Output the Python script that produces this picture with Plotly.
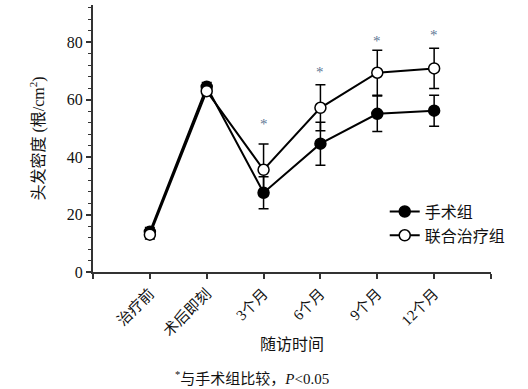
import plotly.graph_objects as go

categories = ["治疗前", "术后即刻", "3个月", "6个月", "9个月", "12个月"]
surgery = [14, 64.5, 27.6, 44.7, 55.1, 56.2]
surgery_err = [1.5, 1.5, 5.6, 7.5, 6.2, 5.4]
combined = [13, 63, 35.6, 57.2, 69.4, 70.9]
combined_err = [1.5, 1.5, 9.0, 8.0, 7.8, 7.0]
star_pos = [2, 3, 4, 5]
star_y = [51.5, 69.5, 80.6, 82.4]

xpos = list(range(len(categories)))
serif = "'Liberation Serif', 'Noto Sans CJK SC', serif"
ink = "#111111"

fig = go.Figure()
fig.add_trace(go.Scatter(
    x=xpos, y=surgery, name="手术组", mode="lines+markers",
    line=dict(color="black", width=2),
    marker=dict(symbol="circle", size=11, color="black", line=dict(color="black", width=1.5)),
    error_y=dict(type="data", array=surgery_err, visible=True, color="black", thickness=1.5, width=5),
))
fig.add_trace(go.Scatter(
    x=xpos, y=combined, name="联合治疗组", mode="lines+markers",
    line=dict(color="black", width=2),
    marker=dict(symbol="circle", size=11, color="white", line=dict(color="black", width=1.5)),
    error_y=dict(type="data", array=combined_err, visible=True, color="black", thickness=1.5, width=5),
))

for xp, yp in zip(star_pos, star_y):
    fig.add_annotation(x=xp, y=yp, text="*", showarrow=False,
                       font=dict(size=15, color="#5f7895", family=serif))

fig.add_annotation(xref="paper", yref="paper", x=(252 - 93) / 398, y=-(378 - 272) / 267,
                   text="<sup>*</sup>与手术组比较，<i>P</i>&lt;0.05", showarrow=False,
                   font=dict(size=15, color=ink, family=serif), xanchor="center", yanchor="middle")

fig.update_layout(
    width=528, height=389,
    margin=dict(l=93, r=37, t=5, b=117, autoexpand=False),
    paper_bgcolor="white", plot_bgcolor="white",
    font=dict(family=serif, color=ink, size=15),
    showlegend=True,
    legend=dict(x=0.733, y=0.29, xanchor="left", yanchor="top",
                bgcolor="rgba(0,0,0,0)", font=dict(size=16, family=serif, color=ink),
                tracegroupgap=0, itemwidth=30),
)
fig.update_xaxes(
    automargin=False,
    range=[-1, 6], tickmode="array", tickvals=[-1] + xpos + [6],
    ticktext=[""] + categories + [""], tickangle=-45,
    showline=True, linecolor="#333", linewidth=2, ticks="outside", ticklen=5,
    tickwidth=1.5, tickcolor="#333", showgrid=False, zeroline=False,
    tickfont=dict(size=15, family=serif, color=ink),
    title=dict(text="随访时间", font=dict(size=16, family=serif, color=ink), standoff=0),
)
fig.update_yaxes(
    automargin=False,
    range=[0, 93], tickmode="array", tickvals=[0, 20, 40, 60, 80],
    showline=True, linecolor="#333", linewidth=2, ticks="outside", ticklen=5,
    tickwidth=1.5, tickcolor="#333", showgrid=False, zeroline=False,
    tickfont=dict(size=16, family=serif, color=ink),
    minor=dict(dtick=4, tick0=0, ticks="outside", ticklen=3, tickcolor="#333", tickwidth=1),
    title=dict(text="头发密度 (根/cm<sup>2</sup>)", font=dict(size=16, family=serif, color=ink), standoff=18),
)

fig.write_html("out.html", config={"displayModeBar": False},
               post_script="document.body.style.margin='0';document.body.style.overflow='hidden';")
